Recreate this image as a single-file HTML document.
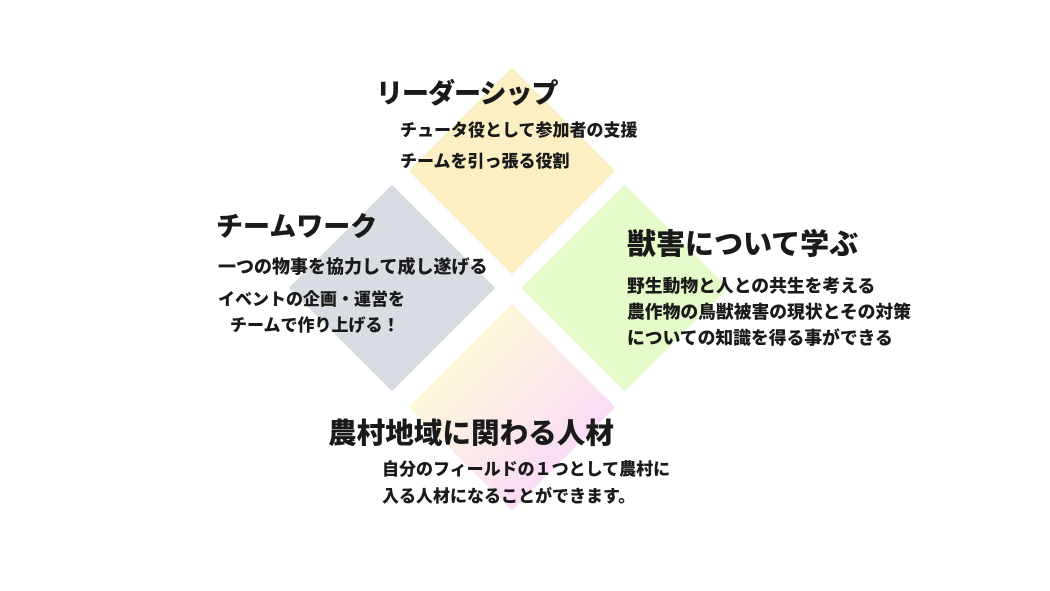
<!DOCTYPE html>
<html><head><meta charset="utf-8"><style>
html,body{margin:0;padding:0;background:#fff;}
body{width:1050px;height:591px;position:relative;overflow:hidden;font-family:"Liberation Sans","Noto Sans CJK JP",sans-serif;color:#1a1a1a;}
.d{position:absolute;width:146px;height:146px;transform:rotate(45deg);}
.t{position:absolute;white-space:nowrap;font-weight:900;line-height:1;}
.h{font-size:27px;}
.s{font-size:17px;}
</style></head><body>
<div class="d" style="left:439px;top:98px;background:#fcefc3;"></div>
<div class="d" style="left:319px;top:215px;background:#d9dde3;"></div>
<div class="d" style="left:552px;top:215px;background:#e5fbc9;"></div>
<div class="d" style="left:439px;top:334px;background:linear-gradient(90deg,#fdf9dc,#fadcf6);"></div>

<div class="t h" style="left:376px;top:81px;letter-spacing:-1px;">リーダーシップ</div>
<div class="t s" style="left:400px;top:122px;">チュータ役として参加者の支援</div>
<div class="t s" style="left:400px;top:153px;">チームを引っ張る役割</div>

<div class="t h" style="left:216px;top:214px;">チームワーク</div>
<div class="t s" style="left:218px;top:258px;font-size:18px;">一つの物事を協力して成し遂げる</div>
<div class="t s" style="left:218px;top:291px;">イベントの企画・運営を</div>
<div class="t s" style="left:230px;top:317px;">チームで作り上げる！</div>

<div class="t h" style="left:627px;top:231px;font-size:29px;">獣害について学ぶ</div>
<div class="t s" style="left:627px;top:278px;font-size:17.8px;">野生動物と人との共生を考える</div>
<div class="t s" style="left:627px;top:304px;font-size:17.8px;">農作物の鳥獣被害の現状とその対策</div>
<div class="t s" style="left:627px;top:330px;font-size:17.8px;">についての知識を得る事ができる</div>

<div class="t h" style="left:328px;top:420px;font-size:28.6px;">農村地域に関わる人材</div>
<div class="t s" style="left:382px;top:461px;">自分のフィールドの１つとして農村に</div>
<div class="t s" style="left:382px;top:488px;">入る人材になることができます。</div>
</body></html>
